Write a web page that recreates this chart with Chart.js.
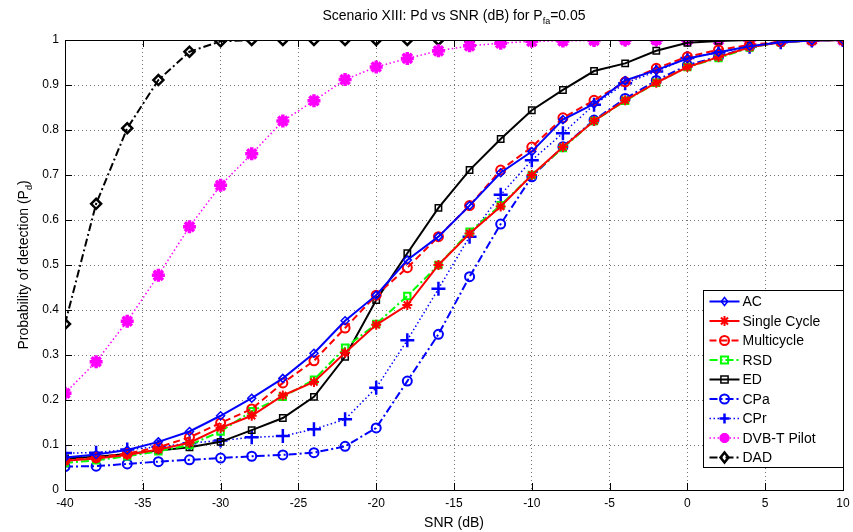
<!DOCTYPE html>
<html><head><meta charset="utf-8">
<script src="https://cdn.jsdelivr.net/npm/chart.js@4.4.0/dist/chart.umd.min.js"></script>
<style>html,body{margin:0;padding:0;background:#fff;}#wrap{width:853px;height:532px;}</style>
</head><body><div id="wrap"><canvas id="c" width="853" height="532"></canvas></div>
<script>
// ---- data ----
const snr = [-40,-38,-36,-34,-32,-30,-28,-26,-24,-22,-20,-18,-16,-14,-12,-10,-8,-6,-4,-2,0,2,4,6,8,10];
const acPd     = [0.072,0.079,0.089,0.107,0.130,0.165,0.204,0.248,0.304,0.376,0.433,0.511,0.563,0.632,0.705,0.752,0.823,0.858,0.910,0.933,0.959,0.973,0.986,0.995,0.999,1.000];
const singlePd = [0.065,0.070,0.078,0.090,0.105,0.138,0.165,0.210,0.240,0.305,0.367,0.411,0.500,0.570,0.630,0.700,0.762,0.820,0.866,0.905,0.940,0.962,0.984,0.995,0.999,1.000];
const multiPd  = [0.066,0.072,0.081,0.095,0.117,0.149,0.180,0.238,0.287,0.360,0.433,0.494,0.563,0.632,0.711,0.762,0.827,0.866,0.907,0.937,0.963,0.978,0.989,0.996,0.999,1.000];
const rsdPd    = [0.060,0.066,0.075,0.086,0.100,0.130,0.175,0.207,0.245,0.316,0.369,0.431,0.500,0.574,0.633,0.700,0.760,0.820,0.865,0.905,0.940,0.960,0.983,0.995,0.999,1.000];
const edPd     = [0.070,0.074,0.080,0.088,0.095,0.107,0.133,0.160,0.207,0.296,0.422,0.526,0.627,0.711,0.780,0.844,0.889,0.931,0.948,0.976,0.994,0.998,1.000,1.000,1.000,1.000];
const cpaPd    = [0.052,0.053,0.058,0.063,0.067,0.071,0.075,0.078,0.083,0.097,0.138,0.242,0.346,0.474,0.591,0.696,0.763,0.822,0.870,0.910,0.944,0.963,0.985,0.996,0.999,1.000];
const cprPd    = [0.082,0.083,0.090,0.096,0.104,0.110,0.117,0.120,0.135,0.157,0.227,0.333,0.447,0.563,0.656,0.733,0.793,0.856,0.904,0.930,0.960,0.972,0.985,0.995,0.999,1.000];
const dvbPd    = [0.215,0.285,0.375,0.477,0.585,0.677,0.747,0.820,0.865,0.912,0.940,0.959,0.976,0.987,0.993,0.997,0.998,0.999,1.000,1.000,1.000,1.000,1.000,1.000,1.000,1.000];
const dadPd    = [0.369,0.636,0.804,0.911,0.974,0.997,1.000,1.000,1.000,1.000,1.000,1.000,1.000,1.000,1.000,1.000,1.000,1.000,1.000,1.000,1.000,1.000,1.000,1.000,1.000,1.000];
const seriesNames = ['AC','Single Cycle','Multicycle','RSD','ED','CPa','CPr','DVB-T Pilot','DAD'];
const xTickValues = [-40,-35,-30,-25,-20,-15,-10,-5,0,5,10];
const yTickValues = [0,0.1,0.2,0.3,0.4,0.5,0.6,0.7,0.8,0.9,1];
const titleParts = ['Scenario XIII: Pd vs SNR (dB) for P','fa','=0.05'];
const yTitleParts = ['Probability of detection (P','d',')'];
const xTitle = 'SNR (dB)';

const FONT = '"Liberation Sans", Arial, sans-serif';
const pts = arr => snr.map((x,i)=>({x:x,y:arr[i]}));
const styles = [
  {c:'#0000ff', dash:[],          ps:'rectRot', r:4,  bw:2,   pw:1.5},
  {c:'#ff0000', dash:[],          ps:'star',    r:5,  bw:2,   pw:2},
  {c:'#ff0000', dash:[7,4],       ps:'circle',  r:4.5,bw:2,   pw:2},
  {c:'#00ff00', dash:[8,3,2,3],   ps:'rect',    r:4.5,bw:2,   pw:2},
  {c:'#000000', dash:[],          ps:'rect',    r:4.5,bw:2,   pw:1.5},
  {c:'#0000ff', dash:[8,3,2,3],   ps:'circle',  r:4.5,bw:2,   pw:2},
  {c:'#0000ff', dash:[1.5,2.5],   ps:'cross',   r:7,  bw:1.5, pw:2.5},
  {c:'#ff00ff', dash:[1.5,2.5],   ps:'star',    r:6.5,bw:1.5, pw:3.5},
  {c:'#000000', dash:[8,3,2,3],   ps:'rectRot', r:5,  bw:2,   pw:2.5}
];
const allSeries = [acPd,singlePd,multiPd,rsdPd,edPd,cpaPd,cprPd,dvbPd,dadPd];
const datasets = allSeries.map((arr,i)=>({
  label: seriesNames[i], data: pts(arr),
  borderColor: styles[i].c, backgroundColor:'rgba(0,0,0,0)',
  borderWidth: styles[i].bw, borderDash: styles[i].dash,
  pointStyle: styles[i].ps, pointRadius: styles[i].r,
  pointBorderWidth: styles[i].pw, pointBorderColor: styles[i].c,
  pointBackgroundColor:'rgba(0,0,0,0)', tension:0, fill:false
}));

function drawMarker(ctx, style, r, x, y){
  ctx.beginPath();
  if(style==='circle'){ ctx.arc(x,y,r,0,Math.PI*2); }
  else if(style==='rect'){ ctx.rect(x-r*0.8,y-r*0.8,r*1.6,r*1.6); }
  else if(style==='rectRot'){ ctx.moveTo(x,y-r); ctx.lineTo(x+r*0.8,y); ctx.lineTo(x,y+r); ctx.lineTo(x-r*0.8,y); ctx.closePath(); }
  else if(style==='cross'){ ctx.moveTo(x-r,y); ctx.lineTo(x+r,y); ctx.moveTo(x,y-r); ctx.lineTo(x,y+r); }
  else if(style==='star'){ ctx.moveTo(x-r,y); ctx.lineTo(x+r,y); ctx.moveTo(x,y-r); ctx.lineTo(x,y+r);
    const d=r*0.707; ctx.moveTo(x-d,y-d); ctx.lineTo(x+d,y+d); ctx.moveTo(x-d,y+d); ctx.lineTo(x+d,y-d); }
  ctx.stroke();
}

const decor = {
  id:'decor',
  afterDraw(chart){
    const ctx = chart.ctx, a = chart.chartArea;
    const xs = chart.scales.x, ys = chart.scales.y;
    ctx.save();
    ctx.strokeStyle='#000'; ctx.lineWidth=1; ctx.setLineDash([]);
    ctx.strokeRect(Math.round(a.left)+0.5, Math.round(a.top)+0.5, Math.round(a.right-a.left), Math.round(a.bottom-a.top));
    ctx.beginPath();
    xTickValues.forEach(v=>{ const px=Math.round(xs.getPixelForValue(v))+0.5;
      ctx.moveTo(px,a.bottom); ctx.lineTo(px,a.bottom-7); ctx.moveTo(px,a.top); ctx.lineTo(px,a.top+7); });
    yTickValues.forEach(v=>{ const py=Math.round(ys.getPixelForValue(v))+0.5;
      ctx.moveTo(a.left,py); ctx.lineTo(a.left+7,py); ctx.moveTo(a.right,py); ctx.lineTo(a.right-7,py); });
    ctx.stroke();
    // title with subscript
    ctx.fillStyle='#000'; ctx.textBaseline='alphabetic';
    const fMain='14px '+FONT, fSub='9px '+FONT;
    ctx.font=fMain; const w1=ctx.measureText(titleParts[0]).width, w3=ctx.measureText(titleParts[2]).width;
    ctx.font=fSub; const w2=ctx.measureText(titleParts[1]).width;
    let tx=(a.left+a.right)/2-(w1+w2+w3)/2; const ty=20;
    ctx.textAlign='left';
    ctx.font=fMain; ctx.fillText(titleParts[0],tx,ty); tx+=w1;
    ctx.font=fSub; ctx.fillText(titleParts[1],tx,ty+4); tx+=w2;
    ctx.font=fMain; ctx.fillText(titleParts[2],tx,ty);
    // x title
    ctx.textAlign='center'; ctx.font=fMain;
    ctx.fillText(xTitle,(a.left+a.right)/2,527);
    // y title rotated
    ctx.save();
    ctx.translate(28,(a.top+a.bottom)/2); ctx.rotate(-Math.PI/2);
    ctx.font=fMain; const v1=ctx.measureText(yTitleParts[0]).width, v3=ctx.measureText(yTitleParts[2]).width;
    ctx.font=fSub; const v2=ctx.measureText(yTitleParts[1]).width;
    let vx=-(v1+v2+v3)/2; ctx.textAlign='left';
    ctx.font=fMain; ctx.fillText(yTitleParts[0],vx,0); vx+=v1;
    ctx.font=fSub; ctx.fillText(yTitleParts[1],vx,4); vx+=v2;
    ctx.font=fMain; ctx.fillText(yTitleParts[2],vx,0);
    ctx.restore();
    // legend
    const lx=703.5, ly=290.5, lw=140, lh=177, rowH=19.5;
    ctx.fillStyle='#fff'; ctx.fillRect(lx,ly,lw,lh);
    ctx.strokeStyle='#000'; ctx.lineWidth=1; ctx.strokeRect(lx,ly,lw,lh);
    chart.data.datasets.forEach((ds,i)=>{
      const y=ly+11+i*rowH;
      ctx.strokeStyle=ds.borderColor; ctx.lineWidth=ds.borderWidth; ctx.setLineDash(ds.borderDash||[]);
      ctx.beginPath(); ctx.moveTo(lx+6,y); ctx.lineTo(lx+36,y); ctx.stroke();
      ctx.setLineDash([]); ctx.lineWidth=ds.pointBorderWidth;
      drawMarker(ctx, ds.pointStyle, Math.min(ds.pointRadius,5), lx+21, y);
      ctx.fillStyle='#000'; ctx.font='14px '+FONT; ctx.textAlign='left'; ctx.textBaseline='middle';
      ctx.fillText(ds.label, lx+39, y+1);
    });
    ctx.restore();
  }
};

new Chart(document.getElementById('c'), {
  type:'line',
  data:{datasets: datasets},
  options:{
    responsive:false, animation:false, devicePixelRatio:1,
    layout:{padding:{top:40,right:7,left:0,bottom:0}},
    plugins:{legend:{display:false}, title:{display:false}, tooltip:{enabled:false}},
    scales:{
      x:{type:'linear', min:-40, max:10,
        afterFit(s){ s.height=42; s.paddingLeft=0; s.paddingRight=0; },
        afterBuildTicks(s){ s.ticks = xTickValues.map(v=>({value:v})); },
        ticks:{color:'#000', font:{family:FONT,size:12}, padding:6, maxRotation:0, callback:v=>String(v)},
        grid:{color:'rgba(0,0,0,0.55)', lineWidth:1, drawTicks:false},
        border:{display:true, color:'#000', dash:[1,3]}
      },
      y:{type:'linear', min:0, max:1,
        afterFit(s){ s.width=65; s.paddingTop=0; s.paddingBottom=0; },
        afterBuildTicks(s){ s.ticks = yTickValues.map(v=>({value:v})); },
        ticks:{color:'#000', font:{family:FONT,size:12}, padding:6, callback:v=>String(v)},
        grid:{color:'rgba(0,0,0,0.55)', lineWidth:1, drawTicks:false},
        border:{display:true, color:'#000', dash:[1,3]}
      }
    }
  },
  plugins:[decor]
});
</script></body></html>
